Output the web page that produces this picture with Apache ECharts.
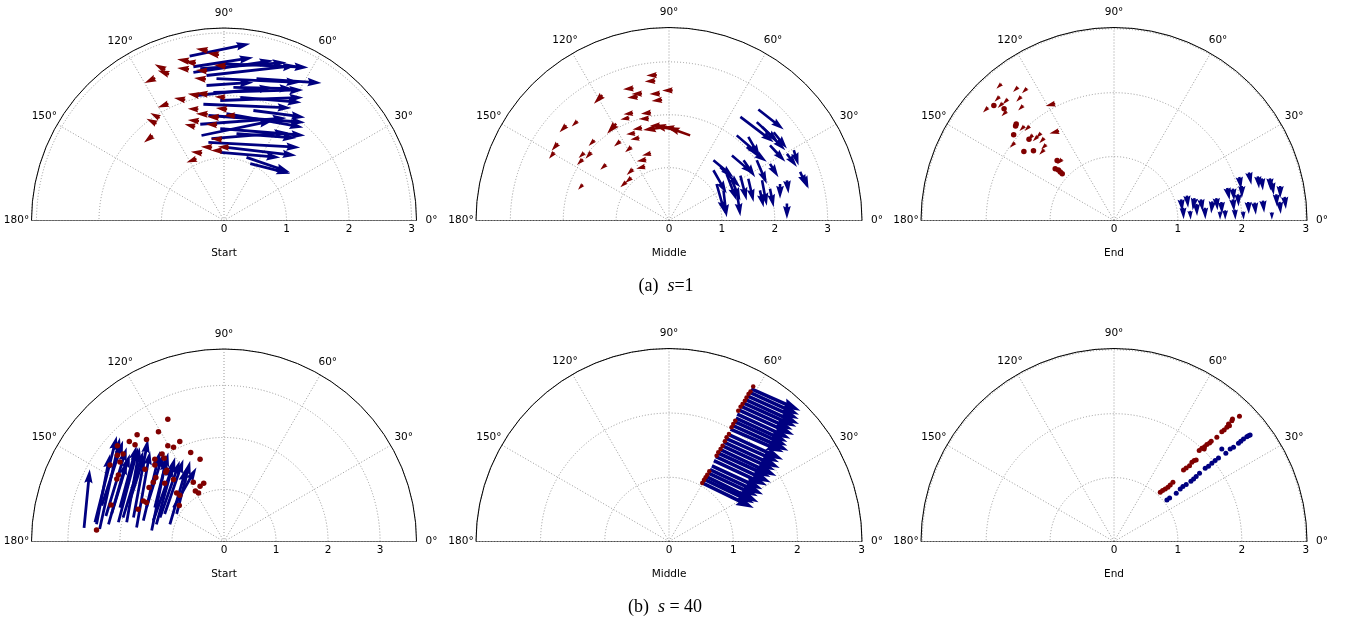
<!DOCTYPE html>
<html>
<head>
<meta charset="utf-8">
<script src="https://cdn.jsdelivr.net/npm/echarts@6.0.0/dist/echarts.min.js"></script>
<style>
  html, body { margin: 0; padding: 0; background: #fff; }
  #chart { width: 1347px; height: 621px; }
</style>
</head>
<body>
<div id="chart"></div>
<script>
// labels
const panelNames = ['Start', 'Middle', 'End', 'Start', 'Middle', 'End'];
const angleTicks = [0, 30, 60, 90, 120, 150, 180];
const radiusTicks = [0, 1, 2, 3];

// arrows: [x tail, y tail, x head, y head], dots: [x, y]  (radius units)
const s1StartBlue = [
  [-0.55, 2.63, 0.42, 2.83], [-0.49, 2.46, 0.47, 2.61], [-0.49, 2.37, 0.79, 2.56],
  [-0.38, 2.43, 1.00, 2.53], [-0.28, 2.32, 1.16, 2.48], [-0.06, 2.51, 1.35, 2.45],
  [0.52, 2.27, 1.56, 2.20], [-0.28, 2.16, 0.47, 2.21], [-0.44, 2.00, 0.79, 2.13],
  [-0.17, 2.05, 1.27, 2.09], [-0.06, 1.92, 1.27, 1.97], [0.26, 1.97, 1.24, 1.89],
  [-0.33, 1.86, 1.08, 1.80], [0.47, 1.76, 1.30, 1.65], [-0.25, 1.68, 1.30, 1.57],
  [0.04, 1.71, 1.27, 1.49], [-0.38, 1.54, 1.00, 1.64], [-0.36, 1.36, 0.79, 1.60],
  [-0.06, 1.47, 1.30, 1.36], [-0.20, 1.31, 1.03, 1.41], [-0.25, 1.25, 1.22, 1.17],
  [0.20, 1.39, 1.16, 1.32], [-0.06, 1.09, 0.90, 1.01], [0.36, 1.01, 1.06, 0.77],
  [0.42, 0.91, 1.06, 0.75], [0.04, 1.17, 1.16, 1.04], [-0.12, 2.27, 1.22, 2.21],
  [0.15, 2.13, 1.11, 2.11]
];
const s1StartRed = [
  [-0.26, 2.72, -0.45, 2.75], [-0.08, 2.65, -0.27, 2.68], [-0.56, 2.55, -0.75, 2.58],
  [-0.45, 2.52, -0.64, 2.54], [-0.94, 2.41, -1.11, 2.50], [-0.88, 2.34, -1.06, 2.40],
  [-1.10, 2.28, -1.27, 2.20], [-0.56, 2.42, -0.75, 2.44], [-0.27, 2.39, -0.45, 2.41],
  [-0.29, 2.26, -0.48, 2.28], [0.03, 2.47, -0.16, 2.49], [-0.26, 2.02, -0.45, 2.04],
  [-0.40, 2.00, -0.58, 2.03], [-0.62, 1.93, -0.80, 1.96], [-0.89, 1.87, -1.06, 1.81],
  [0.02, 1.97, -0.15, 1.98], [-0.41, 1.78, -0.58, 1.79], [-0.26, 1.70, -0.45, 1.71],
  [-0.08, 1.65, -0.27, 1.66], [0.05, 1.78, -0.13, 1.80], [0.18, 1.68, 0.00, 1.68],
  [-1.03, 1.64, -1.18, 1.72], [-1.08, 1.55, -1.24, 1.63], [-0.40, 1.59, -0.58, 1.61],
  [-0.46, 1.50, -0.63, 1.54], [-0.11, 1.53, -0.29, 1.54], [-1.14, 1.36, -1.28, 1.25],
  [-0.03, 1.30, -0.21, 1.31], [-0.19, 1.17, -0.37, 1.18], [-0.35, 1.08, -0.53, 1.10],
  [-0.44, 0.99, -0.60, 0.93], [-0.03, 1.12, -0.21, 1.12], [0.08, 1.17, -0.10, 1.18]
];
const s1MiddleBlue = [
  [1.69, 2.10, 2.17, 1.72], [1.35, 1.96, 1.98, 1.48], [1.66, 1.86, 2.07, 1.48],
  [1.76, 1.77, 2.20, 1.33], [1.98, 1.67, 2.23, 1.36], [1.28, 1.61, 1.72, 1.23],
  [1.50, 1.58, 1.72, 1.20], [1.91, 1.42, 2.20, 1.11], [1.19, 1.23, 1.60, 0.88],
  [1.41, 1.14, 1.63, 0.82], [0.84, 1.14, 1.22, 0.82], [0.97, 1.01, 1.35, 0.63],
  [1.66, 1.14, 1.85, 0.69], [2.23, 1.26, 2.42, 1.01], [2.36, 1.33, 2.45, 1.04],
  [2.48, 0.92, 2.61, 0.63], [0.84, 0.95, 1.09, 0.51], [1.09, 0.88, 1.28, 0.38],
  [1.35, 0.85, 1.47, 0.38], [1.50, 0.79, 1.60, 0.35], [1.76, 0.76, 1.85, 0.28],
  [1.91, 0.60, 1.98, 0.25], [2.10, 0.69, 2.10, 0.41], [2.23, 0.76, 2.26, 0.51],
  [0.90, 0.69, 1.06, 0.13], [1.03, 0.57, 1.09, 0.06], [1.28, 0.57, 1.35, 0.08],
  [2.23, 0.32, 2.23, 0.03], [1.72, 0.57, 1.79, 0.25], [1.19, 0.76, 1.35, 0.38],
  [1.91, 1.07, 2.07, 0.82], [1.47, 1.39, 1.85, 1.11], [2.54, 0.85, 2.64, 0.60]
];
const s1MiddleRed = [
  [-0.23, 2.75, -0.43, 2.74], [-0.26, 2.64, -0.46, 2.63], [-0.67, 2.50, -0.87, 2.48],
  [-0.51, 2.40, -0.71, 2.39], [-0.59, 2.34, -0.79, 2.32], [-0.17, 2.40, -0.37, 2.39],
  [0.07, 2.46, -0.13, 2.46], [-0.13, 2.28, -0.33, 2.26], [-1.26, 2.37, -1.42, 2.21],
  [-1.94, 1.80, -2.07, 1.67], [-1.73, 1.88, -1.84, 1.78], [-2.10, 1.46, -2.22, 1.32],
  [-2.17, 1.29, -2.27, 1.17], [-1.41, 1.52, -1.52, 1.41], [-1.60, 1.28, -1.71, 1.18],
  [-1.47, 1.29, -1.58, 1.17], [-1.63, 1.16, -1.74, 1.05], [-1.19, 1.06, -1.30, 0.96],
  [-1.00, 1.83, -1.17, 1.64], [-0.92, 1.50, -1.04, 1.40], [-0.68, 2.03, -0.86, 2.01],
  [-0.75, 1.94, -0.92, 1.91], [-0.64, 1.65, -0.81, 1.63], [-0.51, 1.75, -0.69, 1.72],
  [-0.56, 1.56, -0.73, 1.53], [-0.34, 2.04, -0.53, 2.02], [-0.38, 1.93, -0.57, 1.92],
  [-0.71, 1.39, -0.83, 1.29], [-0.34, 1.27, -0.51, 1.23], [-0.43, 1.15, -0.61, 1.12],
  [-0.45, 1.02, -0.62, 0.98], [-0.68, 0.97, -0.80, 0.86], [-0.71, 0.81, -0.83, 0.71],
  [-0.81, 0.73, -0.92, 0.63], [-1.63, 0.68, -1.72, 0.58], [0.40, 1.61, -0.04, 1.77],
  [0.15, 1.71, -0.30, 1.80], [-0.04, 1.77, -0.49, 1.71], [-0.17, 1.80, -0.36, 1.79],
  [0.10, 1.74, -0.10, 1.78]
];
const s1EndBlue = [
  [1.05, 0.33, 1.07, 0.14], [1.08, 0.20, 1.09, 0.02], [1.26, 0.35, 1.23, 0.16],
  [1.29, 0.26, 1.30, 0.07], [1.36, 0.33, 1.39, 0.14], [1.42, 0.20, 1.43, 0.02],
  [1.54, 0.30, 1.52, 0.11], [1.60, 0.35, 1.62, 0.16], [1.68, 0.29, 1.69, 0.10],
  [1.74, 0.16, 1.74, 0.01], [1.86, 0.33, 1.88, 0.14], [1.89, 0.17, 1.90, 0.01],
  [1.77, 0.51, 1.81, 0.32], [1.86, 0.50, 1.88, 0.31], [1.96, 0.68, 1.99, 0.49],
  [2.00, 0.54, 2.00, 0.35], [1.94, 0.41, 1.95, 0.22], [2.11, 0.75, 2.15, 0.56],
  [2.25, 0.69, 2.27, 0.50], [2.44, 0.66, 2.45, 0.47], [2.47, 0.59, 2.50, 0.40],
  [2.60, 0.54, 2.60, 0.35], [2.54, 0.41, 2.55, 0.22], [2.67, 0.37, 2.69, 0.18],
  [2.10, 0.29, 2.11, 0.10], [2.20, 0.28, 2.22, 0.09], [2.33, 0.31, 2.35, 0.12],
  [2.47, 0.13, 2.47, 0.01], [2.59, 0.29, 2.61, 0.10], [2.02, 0.14, 2.03, 0.01],
  [1.19, 0.15, 1.20, 0.01], [1.66, 0.14, 1.66, 0.01], [2.31, 0.66, 2.33, 0.47],
  [1.14, 0.39, 1.16, 0.20]
];
const s1EndRed = [
  [-1.76, 2.14, -1.84, 2.06], [-1.50, 2.09, -1.58, 2.01], [-1.36, 2.07, -1.44, 1.99],
  [-1.79, 1.94, -1.87, 1.86], [-1.66, 1.90, -1.74, 1.82], [-1.45, 1.94, -1.53, 1.86],
  [-1.42, 1.80, -1.50, 1.72], [-1.97, 1.77, -2.05, 1.69], [-1.68, 1.71, -1.76, 1.63],
  [-1.40, 1.48, -1.48, 1.40], [-1.32, 1.48, -1.40, 1.40], [-1.14, 1.37, -1.22, 1.29],
  [-1.19, 1.32, -1.27, 1.24], [-1.09, 1.29, -1.17, 1.21], [-1.55, 1.22, -1.63, 1.14],
  [-1.06, 1.19, -1.14, 1.11], [-1.09, 1.11, -1.17, 1.03], [-0.92, 1.83, -1.07, 1.79],
  [-0.86, 1.40, -1.01, 1.36], [-0.81, 0.96, -0.89, 0.88], [-1.74, 1.84, -1.82, 1.76],
  [-1.27, 1.34, -1.35, 1.26]
];
const s1EndRedDots = [
  [-1.88, 1.80], [-1.72, 1.75], [-1.54, 1.48], [-1.57, 1.34], [-1.33, 1.27],
  [-1.41, 1.08], [-1.26, 1.09], [-0.89, 0.94], [-0.87, 0.79], [-0.81, 0.73],
  [-0.92, 0.81], [-1.53, 1.51], [-0.84, 0.76]
];
const s40StartBlue = [
  [-2.69, 0.26, -2.58, 1.39], [-2.48, 0.37, -2.06, 2.03], [-2.39, 0.24, -2.00, 2.00],
  [-2.45, 0.33, -2.19, 1.68], [-2.27, 0.49, -1.87, 1.81], [-2.16, 0.53, -1.81, 1.68],
  [-2.03, 0.37, -1.65, 1.81], [-1.87, 0.37, -1.62, 1.81], [-1.74, 0.46, -1.46, 1.97],
  [-1.68, 0.27, -1.42, 1.74], [-1.55, 0.40, -1.23, 1.74], [-1.39, 0.21, -1.10, 1.62],
  [-1.30, 0.33, -0.94, 1.62], [-1.23, 0.46, -0.85, 1.55], [-1.04, 0.33, -0.72, 1.42],
  [-0.91, 0.53, -0.65, 1.55], [-0.97, 0.65, -0.53, 1.42], [-2.00, 0.65, -1.68, 1.84],
  [-2.35, 0.69, -1.94, 1.94], [-1.49, 0.65, -1.17, 1.68], [-1.81, 0.78, -1.52, 1.68],
  [-2.22, 0.33, -1.87, 1.55], [-1.14, 0.53, -0.78, 1.58], [-1.33, 0.65, -1.07, 1.71],
  [-1.36, 0.40, -0.97, 1.49], [-1.94, 0.46, -1.55, 1.74]
];
const s40StartRedDots = [
  [-1.08, 2.35], [-1.26, 2.11], [-1.67, 2.05], [-1.82, 1.92], [-1.49, 1.96],
  [-1.71, 1.86], [-2.05, 1.84], [-0.97, 1.81], [-0.85, 1.92], [-1.08, 1.84],
  [-2.05, 1.66], [-1.94, 1.68], [-0.64, 1.71], [-0.46, 1.58], [-2.19, 1.47],
  [-2.00, 1.53], [-1.33, 1.58], [-1.19, 1.68], [-1.15, 1.60], [-1.33, 1.47],
  [-1.52, 1.39], [-2.03, 1.28], [-2.06, 1.20], [-1.12, 1.33], [-1.10, 1.37],
  [-0.97, 1.19], [-1.31, 1.23], [-1.36, 1.14], [-1.14, 1.12], [-1.44, 1.04],
  [-0.59, 1.14], [-0.39, 1.12], [-0.46, 1.06], [-0.55, 0.97], [-0.49, 0.93],
  [-0.91, 0.93], [-0.85, 0.89], [-1.55, 0.78], [-1.49, 0.75], [-0.86, 0.69],
  [-2.17, 0.70], [-1.65, 0.62], [-2.45, 0.22]
];
const s40MiddleBlue = [
  [0.518, 0.912, 1.321, 0.523], [0.549, 0.969, 1.326, 0.596], [0.575, 1.015, 1.394, 0.611],
  [0.606, 1.067, 1.383, 0.704], [0.637, 1.119, 1.466, 0.730], [0.668, 1.176, 1.456, 0.813],
  [0.731, 1.321, 1.586, 0.917], [0.762, 1.378, 1.581, 1.005], [0.793, 1.435, 1.674, 1.021],
  [0.824, 1.492, 1.653, 1.109], [0.855, 1.549, 1.725, 1.145], [0.886, 1.606, 1.715, 1.233],
  [0.922, 1.668, 1.777, 1.274], [0.958, 1.751, 1.787, 1.388], [0.990, 1.808, 1.860, 1.414],
  [1.021, 1.865, 1.840, 1.492], [1.062, 1.984, 1.891, 1.601], [1.093, 2.046, 1.948, 1.657],
  [1.124, 2.103, 1.927, 1.740], [1.155, 2.160, 1.984, 1.787], [1.186, 2.212, 2.025, 1.829],
  [1.218, 2.269, 2.021, 1.906], [1.249, 2.326, 2.026, 1.974], [1.280, 2.378, 2.047, 2.036],
  [0.699, 1.259, 1.528, 0.870], [1.041, 1.922, 1.844, 1.549]
];
const s40MiddleRedDots = [
  [0.518, 0.912], [0.544, 0.958], [0.570, 1.000], [0.596, 1.041], [0.627, 1.093],
  [0.741, 1.337], [0.767, 1.389], [0.803, 1.440], [0.834, 1.492], [0.870, 1.560],
  [0.896, 1.622], [0.933, 1.673], [0.974, 1.777], [1.000, 1.829], [1.031, 1.881],
  [1.078, 2.036], [1.114, 2.098], [1.145, 2.140], [1.181, 2.192], [1.207, 2.243],
  [1.238, 2.295], [1.269, 2.337], [1.311, 2.414]
];
const s40EndRedDots = [
  [0.724, 0.771], [0.760, 0.797], [0.802, 0.823], [0.844, 0.849], [0.880, 0.885],
  [0.922, 0.927], [1.088, 1.120], [1.130, 1.151], [1.182, 1.187], [1.219, 1.240],
  [1.255, 1.266], [1.286, 1.276], [1.333, 1.422], [1.375, 1.458], [1.417, 1.484],
  [1.453, 1.516], [1.495, 1.542], [1.521, 1.568], [1.609, 1.630], [1.687, 1.719],
  [1.724, 1.745], [1.766, 1.786], [1.807, 1.812], [1.844, 1.891], [1.854, 1.917],
  [1.963, 1.958], [1.792, 1.838], [1.411, 1.448]
];
const s40EndBlueDots = [
  [0.828, 0.651], [0.870, 0.682], [0.974, 0.755], [1.036, 0.823], [1.078, 0.859],
  [1.130, 0.891], [1.203, 0.943], [1.245, 0.979], [1.286, 1.016], [1.338, 1.068],
  [1.427, 1.146], [1.479, 1.177], [1.531, 1.224], [1.583, 1.266], [1.635, 1.307],
  [1.687, 1.448], [1.750, 1.380], [1.818, 1.448], [1.870, 1.474], [1.948, 1.536],
  [1.984, 1.568], [2.026, 1.604], [2.078, 1.641], [2.130, 1.667], [2.104, 1.656]
];

const RED = '#800000';
const BLUE = '#000080';
const GRID = '#999999';
const FONT = 'DejaVu Sans';
const LABEL_GAP = 15; // px between rim and centre of angle labels

const panels = [
  { center: [224, 220.5], radius: 192.5, rmax: 3.08, w: 2.8, blue: s1StartBlue, red: s1StartRed },
  { center: [669, 220.5], radius: 193, rmax: 3.65, w: 2.6, blue: s1MiddleBlue, red: s1MiddleRed },
  { center: [1114, 220.5], radius: 193, rmax: 3.02, w: 3.0, blue: s1EndBlue, red: s1EndRed, redDots: s1EndRedDots, dot: 5.5 },
  { center: [224, 541.5], radius: 192.5, rmax: 3.7, w: 2.8, blue: s40StartBlue, redDots: s40StartRedDots, dot: 5.5 },
  { center: [669, 541.5], radius: 193, rmax: 3.005, w: 3.6, blue: s40MiddleBlue, redDots: s40MiddleRedDots, dot: 4.5 },
  { center: [1114, 541.5], radius: 193, rmax: 3.02, blueDots: s40EndBlueDots, redDots: s40EndRedDots, dot: 5 }
];

function toPolar(x, y) {
  return [Math.hypot(x, y), Math.atan2(y, x) * 180 / Math.PI];
}

// quiver-like arrow: shaft w, head 3w wide, 5w long; short arrows shrink as a whole
function arrowSeries(idx, list, color, w) {
  return {
    type: 'custom',
    coordinateSystem: 'polar',
    polarIndex: idx,
    silent: true,
    encode: { radius: 0, angle: 1 },
    data: list.map(a => toPolar(a[0], a[1]).concat(toPolar(a[2], a[3]))),
    renderItem: function (params, api) {
      const p0 = api.coord([api.value(0), api.value(1)]);
      const p1 = api.coord([api.value(2), api.value(3)]);
      const dx = p1[0] - p0[0], dy = p1[1] - p0[1];
      const len = Math.hypot(dx, dy);
      const ux = dx / len, uy = dy / len;
      let L = len, k = 1;
      if (len < 5 * w) { L = 5 * w; k = len / L; }
      const shape = [
        [0, -w / 2], [L - 4.5 * w, -w / 2], [L - 5 * w, -1.5 * w], [L, 0],
        [L - 5 * w, 1.5 * w], [L - 4.5 * w, w / 2], [0, w / 2]
      ];
      const pts = shape.map(s => [
        p0[0] + k * (s[0] * ux - s[1] * uy),
        p0[1] + k * (s[0] * uy + s[1] * ux)
      ]);
      return { type: 'polygon', shape: { points: pts }, style: { fill: color } };
    }
  };
}

function dotSeries(idx, list, color, size) {
  return {
    type: 'scatter',
    coordinateSystem: 'polar',
    polarIndex: idx,
    silent: true,
    symbol: 'circle',
    symbolSize: size,
    itemStyle: { color: color, opacity: 1 },
    data: list.map(d => toPolar(d[0], d[1]))
  };
}

// angle tick labels, centred just outside the rim like matplotlib does
function angleLabelSeries(idx, p) {
  const r = p.rmax * (p.radius + LABEL_GAP) / p.radius;
  return {
    type: 'scatter',
    coordinateSystem: 'polar',
    polarIndex: idx,
    silent: true,
    clip: false,
    symbolSize: 1,
    itemStyle: { color: 'rgba(0,0,0,0)', opacity: 1 },
    label: {
      show: true, position: 'inside', color: '#000', opacity: 1,
      fontSize: 10.5, fontFamily: FONT,
      formatter: d => d.value[1] + '°'
    },
    data: angleTicks.map(a => [r, a])
  };
}

const series = [];
panels.forEach((p, i) => {
  // straight bottom edge of the half disc
  series.push({
    type: 'line', coordinateSystem: 'polar', polarIndex: i, silent: true,
    symbol: 'none', z: 1,
    lineStyle: { color: '#000', width: 1 },
    data: [[p.rmax, 180], [p.rmax, 0]]
  });
  if (p.blue) series.push(arrowSeries(i, p.blue, BLUE, p.w));
  if (p.blueDots) series.push(dotSeries(i, p.blueDots, BLUE, p.dot));
  if (p.red) series.push(arrowSeries(i, p.red, RED, p.w));
  if (p.redDots) series.push(dotSeries(i, p.redDots, RED, p.dot));
  series.push(angleLabelSeries(i, p));
});

const chart = echarts.init(document.getElementById('chart'));
chart.setOption({
  backgroundColor: '#fff',
  animation: false,
  polar: panels.map(p => ({ center: p.center, radius: p.radius })),
  angleAxis: panels.map((p, i) => ({
    polarIndex: i,
    type: 'value',
    min: angleTicks[0],
    max: angleTicks[angleTicks.length - 1],
    interval: 30,
    startAngle: 0,
    endAngle: 180,
    clockwise: false,
    axisLine: { lineStyle: { color: '#000', width: 1 } },
    axisTick: { show: false },
    axisLabel: { show: false },
    splitLine: { lineStyle: { color: GRID, width: 1, type: [1, 2] } }
  })),
  radiusAxis: panels.map((p, i) => ({
    polarIndex: i,
    type: 'value',
    min: radiusTicks[0],
    max: p.rmax,
    interval: 1,
    axisLine: { show: false },
    axisTick: { show: false },
    axisLabel: {
      formatter: v => (radiusTicks.indexOf(v) >= 0 ? String(v) : ''),
      color: '#000', fontSize: 10.5, fontFamily: FONT,
      verticalAlign: 'middle', margin: -9
    },
    splitLine: { lineStyle: { color: GRID, width: 1, type: [1, 2] } }
  })),
  series: series,
  graphic: panels.map((p, i) => ({
    type: 'text',
    x: p.center[0],
    y: p.center[1] + 33,
    silent: true,
    style: {
      text: panelNames[i], fill: '#000', fontSize: 10.5, fontFamily: FONT,
      align: 'center', verticalAlign: 'middle'
    }
  })).concat([
    {
      type: 'text', x: 666, y: 286, silent: true,
      style: {
        text: '(a)  {i|s}=1', fill: '#000', fontSize: 18, fontFamily: 'Liberation Serif',
        align: 'center', verticalAlign: 'middle',
        rich: { i: { fontStyle: 'italic', fontSize: 18, fontFamily: 'Liberation Serif' } }
      }
    },
    {
      type: 'text', x: 665, y: 607, silent: true,
      style: {
        text: '(b)  {i|s} = 40', fill: '#000', fontSize: 18, fontFamily: 'Liberation Serif',
        align: 'center', verticalAlign: 'middle',
        rich: { i: { fontStyle: 'italic', fontSize: 18, fontFamily: 'Liberation Serif' } }
      }
    }
  ])
});
</script>
</body>
</html>
